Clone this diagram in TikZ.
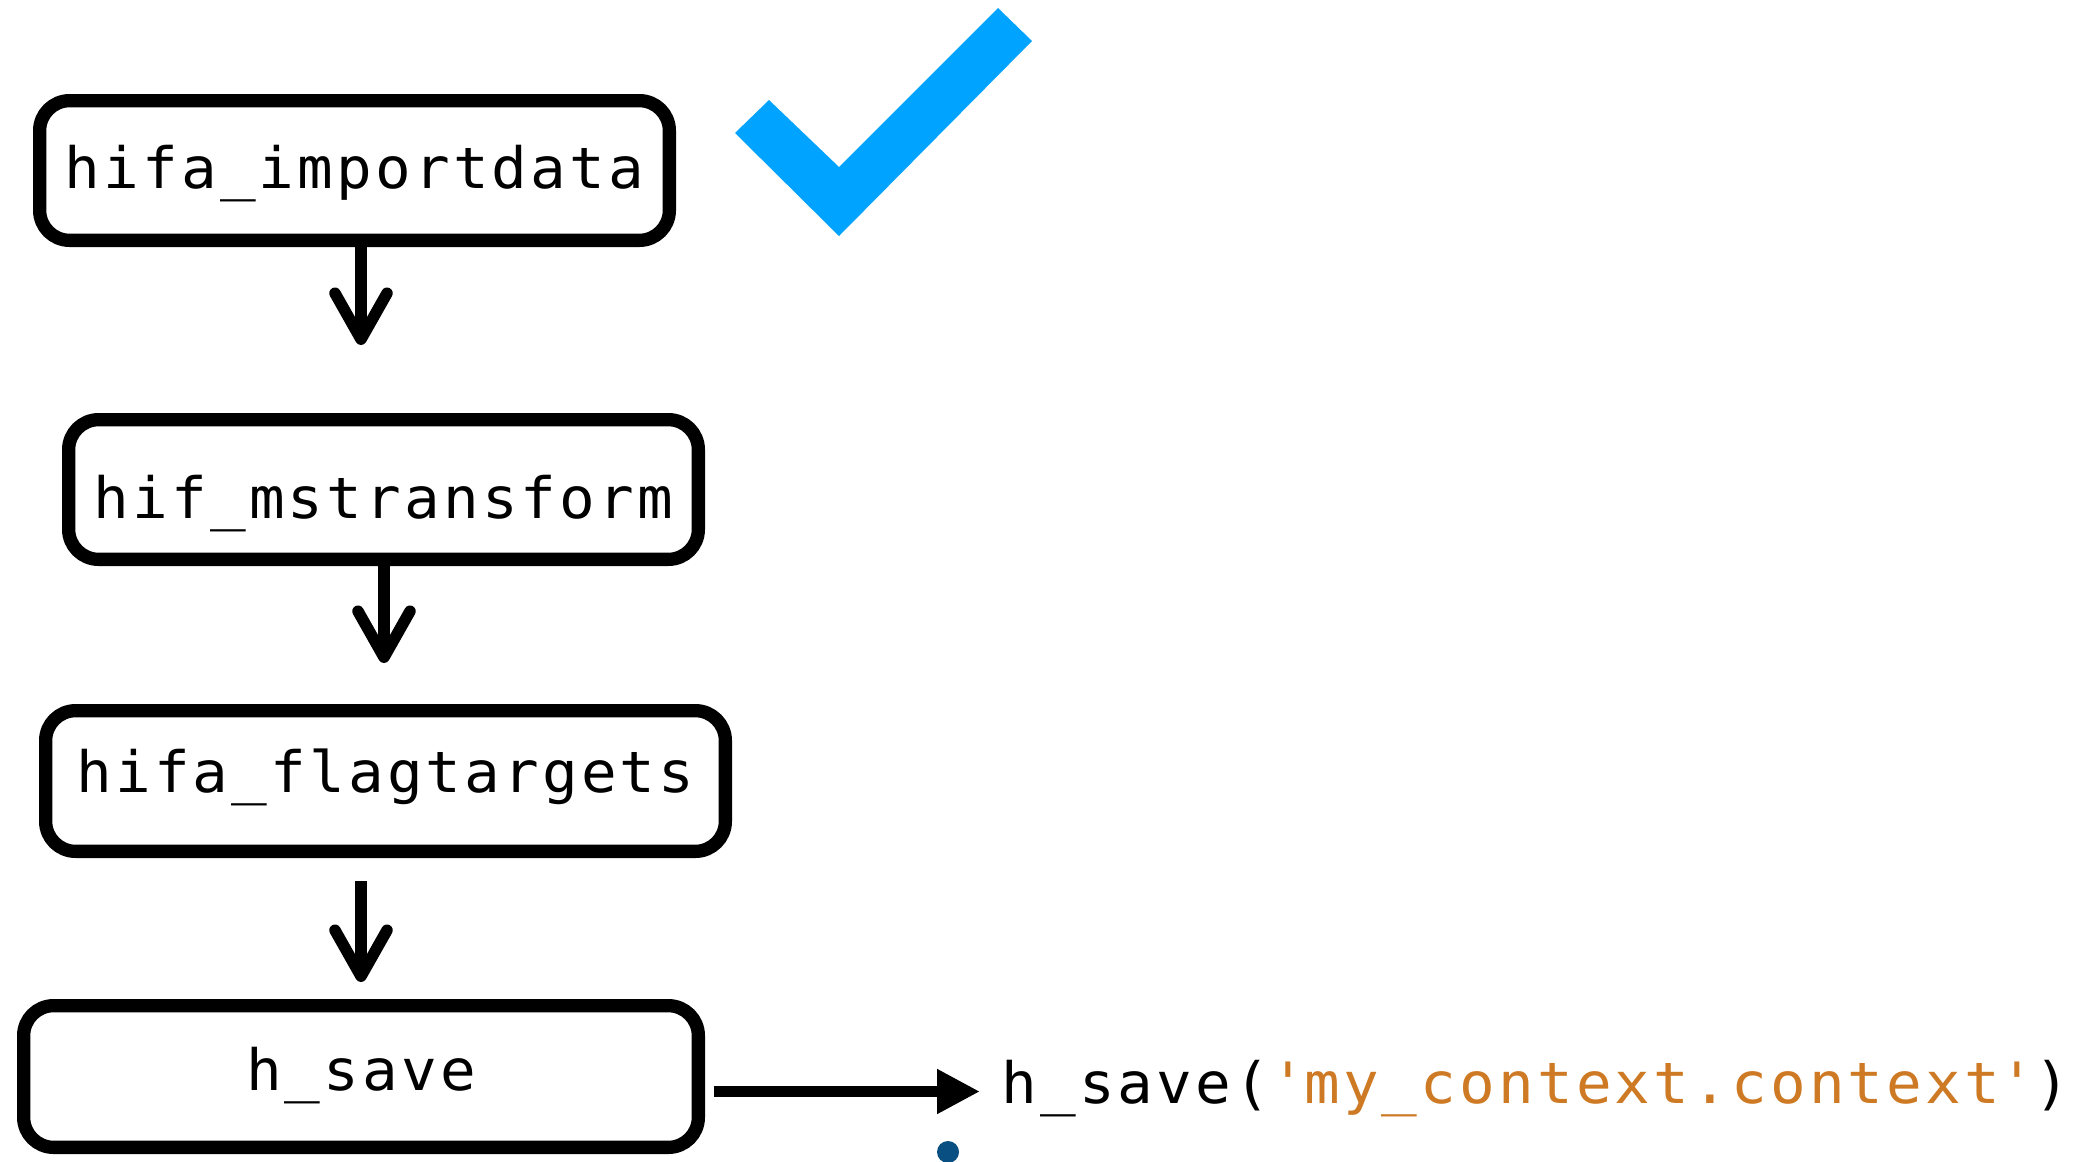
\documentclass[tikz,border=0pt]{standalone}
\usepackage{fontspec}
\newfontfamily\codefont[FakeStretch=1.04,LetterSpace=5.5]{DejaVu Sans Mono}
\usetikzlibrary{arrows.meta}
\definecolor{checkblue}{RGB}{0,163,255}
\definecolor{strorange}{RGB}{206,122,36}
\definecolor{dotblue}{RGB}{10,79,130}
\begin{document}
\begin{tikzpicture}[x=0.5pt,y=-0.5pt,
  codetext/.style={font=\codefont\fontsize{28.5pt}{34pt}\selectfont},
  box/.style={codetext, draw=black, line width=6.65pt, rounded corners=15pt,
    fill=white, inner sep=1pt, text depth=0pt},
  flow/.style={line width=5.75pt, -{Straight Barb[length=23pt,width=26pt,round]}},
  hflow/.style={line width=5.85pt, -{Triangle[length=21.5pt,width=21pt]}},
]
\fill[white] (0,0) rectangle (2078,1162);
\useasboundingbox (0,0) rectangle (2078,1162);

% check mark
\fill[checkblue] (735,133) -- (769,100) -- (839,167) -- (998,8) -- (1032,41) -- (839,236) -- cycle;

% boxes
\node[box, minimum width=314.85pt, minimum height=69.85pt, text height=17.5pt] (b1) at (354.5,170.5) {hifa\_importdata};
\node[box, minimum width=314.85pt, minimum height=69.85pt, text height=28.5pt] (b2) at (383.5,489.5) {hif\_mstransform};
\node[box, minimum width=339.85pt, minimum height=70.35pt, text height=11pt] (b3) at (385.5,781) {hifa\_flagtargets};
\node[box, minimum width=337.35pt, minimum height=70.85pt, text height=13.5pt] (b4) at (361,1076.5) {h\_save};

% call text
\node[codetext, anchor=base west, inner sep=0pt] (call) at (1001,1103)
  {h\_save(\textcolor{strorange}{\textquotesingle my\_context.context\textquotesingle})};

% helper coordinates
\coordinate (ax1) at (361,0);
\coordinate (ax2) at (384,0);
\coordinate (hy) at (0,1091.5);

% connectors
\draw[flow, shorten >=34pt] (b1.south -| ax1) -- (b2.north -| ax1);
\draw[flow, shorten >=20.5pt] (b2.south -| ax2) -- (b3.north -| ax2);
\draw[flow, shorten <=11.5pt, shorten >=8.5pt] (b3.south -| ax1) -- (b4.north -| ax1);
\draw[hflow, shorten <=4.5pt, shorten >=10.5pt] (b4.east |- hy) -- (call.west |- hy);

% dot
\fill[dotblue] (948,1152) circle[radius=5.5pt];
\end{tikzpicture}
\end{document}
